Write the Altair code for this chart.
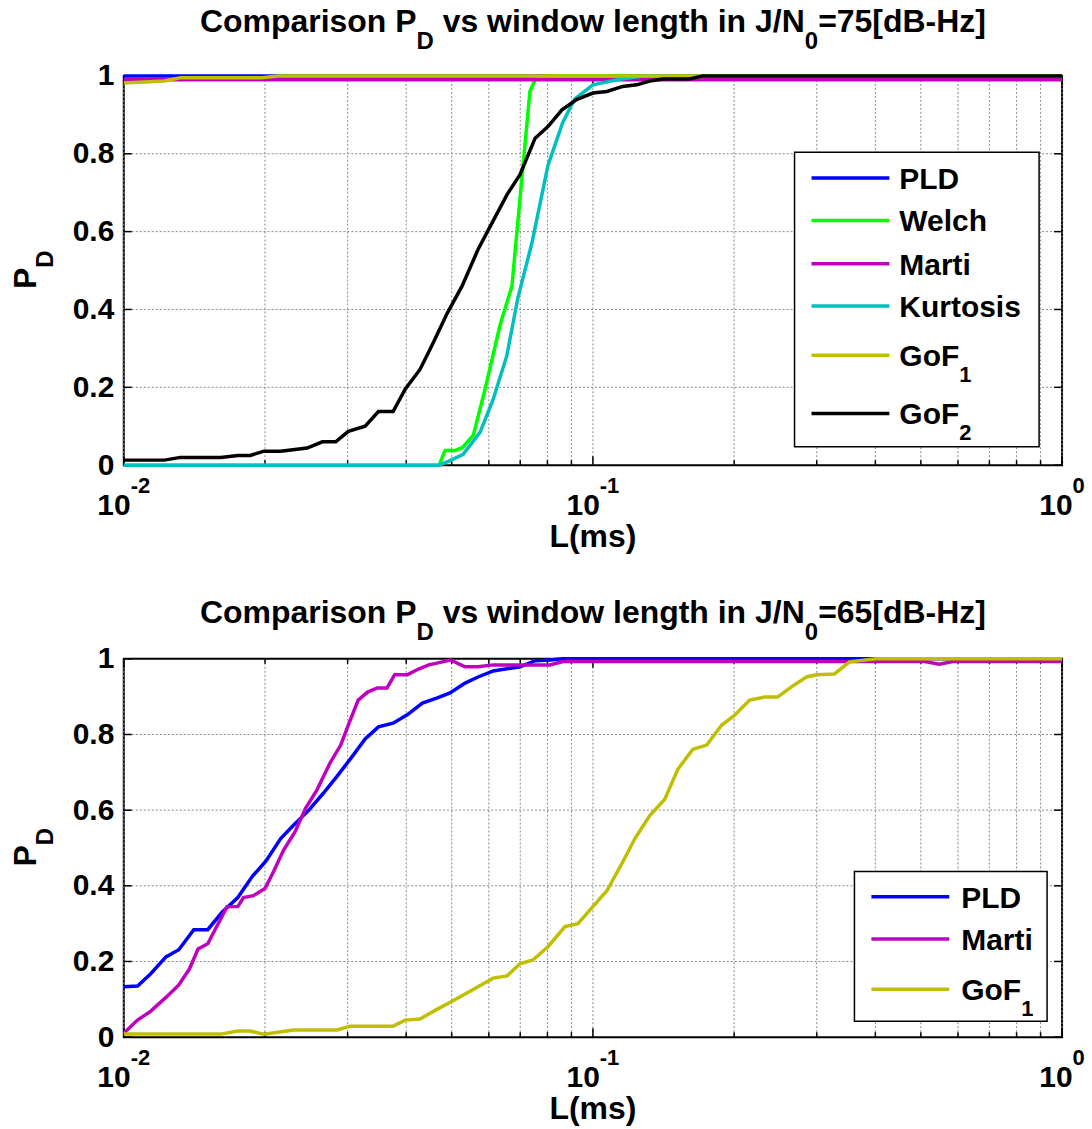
import altair as alt
import pandas as pd

FONT = "Liberation Sans, Arial, sans-serif"

# ---------------- J/N0 = 75 dB-Hz ----------------
pld75_L = [0.01, 1.0]
pld75_P = [1.0, 1.0]

welch75_L = [0.0100, 0.0470, 0.0484, 0.0509, 0.0527, 0.0556, 0.0589, 0.0634, 0.0672,
             0.0734, 0.0753, 0.0800, 1.0]
welch75_P = [0.0, 0.0, 0.038, 0.038, 0.045, 0.077, 0.195, 0.36, 0.46,
             0.96, 0.99, 1.0, 1.0]

marti75_L = [0.01, 1.0]
marti75_P = [0.99, 0.99]

kurt75_L = [0.0100, 0.0470, 0.0492, 0.0529, 0.0575, 0.0612, 0.0655, 0.0692, 0.0741,
            0.0802, 0.0862, 0.0914, 0.1000, 0.1126, 0.1278, 1.0]
kurt75_P = [0.0, 0.0, 0.01, 0.028, 0.085, 0.167, 0.28, 0.43, 0.57,
            0.77, 0.88, 0.94, 0.977, 0.99, 1.0, 1.0]

gof1_75_L = [0.0100, 0.0122, 0.0132, 0.0197, 0.0213, 1.0]
gof1_75_P = [0.982, 0.987, 0.995, 0.995, 1.0, 1.0]

gof2_75_L = [0.0100, 0.0122, 0.0132, 0.0161, 0.0175, 0.0186, 0.0199, 0.0216, 0.0246, 0.0265,
             0.0283, 0.0301, 0.0327, 0.0349, 0.0375, 0.0398, 0.0428, 0.0457, 0.0489, 0.0526,
             0.0569, 0.0610, 0.0656, 0.0699, 0.0753, 0.0802, 0.0859, 0.0925, 0.1000, 0.1071,
             0.1158, 0.1240, 0.1322, 0.1409, 0.1608, 0.1714, 1.0]
gof2_75_P = [0.013, 0.013, 0.02, 0.02, 0.025, 0.025, 0.036, 0.036, 0.044, 0.06,
             0.06, 0.087, 0.10, 0.138, 0.138, 0.195, 0.246, 0.315, 0.39, 0.46,
             0.554, 0.623, 0.695, 0.746, 0.84, 0.87, 0.913, 0.94, 0.956, 0.96,
             0.973, 0.977, 0.987, 0.992, 0.992, 1.0, 1.0]

# ---------------- J/N0 = 65 dB-Hz ----------------
pld65_L = [0.0100, 0.0107, 0.0114, 0.0123, 0.0131, 0.0141, 0.0151, 0.0162, 0.0175, 0.0188,
           0.0201, 0.0216, 0.0230, 0.0248, 0.0266, 0.0285, 0.0307, 0.0327, 0.0349, 0.0375,
           0.0402, 0.0433, 0.0466, 0.0496, 0.0534, 0.0569, 0.0613, 0.0699, 0.0753, 0.0810,
           0.0864, 1.0]
pld65_P = [0.133, 0.135, 0.167, 0.212, 0.231, 0.284, 0.284, 0.33, 0.369, 0.425,
           0.466, 0.525, 0.56, 0.60, 0.644, 0.69, 0.742, 0.788, 0.82, 0.83,
           0.852, 0.883, 0.897, 0.91, 0.936, 0.952, 0.968, 0.979, 0.995, 0.997,
           1.0, 1.0]

marti65_L = [0.0100, 0.0107, 0.0114, 0.0123, 0.0131, 0.0138, 0.0144, 0.0151, 0.0166, 0.0175,
             0.0180, 0.0189, 0.0200, 0.0209, 0.0219, 0.0232, 0.0244, 0.0258, 0.0275, 0.0290,
             0.0301, 0.0316, 0.0331, 0.0347, 0.0364, 0.0378, 0.0402, 0.0425, 0.0447, 0.0470,
             0.0497, 0.0534, 0.0569, 0.0613, 0.0699, 0.0810, 0.0864, 0.51, 0.547, 0.585,
             1.0]
marti65_P = [0.01, 0.045, 0.068, 0.105, 0.138, 0.18, 0.233, 0.247, 0.345, 0.345,
             0.369, 0.374, 0.393, 0.44, 0.494, 0.544, 0.605, 0.653, 0.724, 0.772,
             0.825, 0.891, 0.912, 0.923, 0.923, 0.958, 0.958, 0.973, 0.984, 0.99,
             0.997, 0.979, 0.979, 0.984, 0.984, 0.984, 0.993, 0.993, 0.986, 0.993,
             0.993]

gof1_65_L = [0.0100, 0.0161, 0.0175, 0.0186, 0.0199, 0.0230, 0.0285, 0.0304, 0.0375, 0.0398,
             0.0428, 0.0466, 0.0501, 0.0534, 0.0569, 0.0613, 0.0656, 0.0699, 0.0745, 0.0802,
             0.0872, 0.0929, 0.1000, 0.1071, 0.1153, 0.1229, 0.1322, 0.1423, 0.1517, 0.1633,
             0.1748, 0.1882, 0.2005, 0.2158, 0.2323, 0.2475, 0.2664, 0.2853, 0.2997, 0.3272,
             0.3523, 0.4021, 1.0]
gof1_65_P = [0.008, 0.008, 0.016, 0.016, 0.008, 0.019, 0.019, 0.029, 0.029, 0.045,
             0.048, 0.074, 0.095, 0.114, 0.133, 0.156, 0.162, 0.194, 0.204, 0.239,
             0.292, 0.30, 0.345, 0.387, 0.459, 0.525, 0.586, 0.629, 0.708, 0.761,
             0.772, 0.825, 0.851, 0.891, 0.899, 0.899, 0.928, 0.952, 0.958, 0.960,
             0.992, 1.0, 1.0]

# ---------------- axes ----------------
x_grid = [0.01, 0.02, 0.03, 0.04, 0.05, 0.06, 0.07, 0.08, 0.09,
          0.1, 0.2, 0.3, 0.4, 0.5, 0.6, 0.7, 0.8, 0.9, 1.0]
x_minor = [0.02, 0.03, 0.04, 0.05, 0.06, 0.07, 0.08, 0.09,
           0.2, 0.3, 0.4, 0.5, 0.6, 0.7, 0.8, 0.9]
x_major = [0.01, 0.1, 1.0]
x_base = "10"
x_exp = ["-2", "-1", "0"]
y_ticks = [0, 0.2, 0.4, 0.6, 0.8, 1.0]

C_PLD, C_WELCH, C_MARTI = "#0000ff", "#00ff00", "#bf00bf"
C_KURT, C_GOF1, C_GOF2 = "#00bfbf", "#bfbf00", "#000000"

PANEL_W = 940
H_TOP = 390
H_BOT = 379
LINE_W = 3.5

# Liberation Sans Bold advance widths (1/1000 em), used to lay out mixed-size text
ADV = {" ": 278, "C": 722, "o": 611, "m": 889, "p": 611, "a": 556, "r": 389, "i": 278,
       "s": 556, "n": 611, "P": 667, "D": 722, "v": 556, "w": 778, "d": 611, "l": 278,
       "e": 556, "g": 611, "t": 333, "h": 611, "J": 556, "/": 278, "N": 722, "0": 556,
       "=": 584, "7": 556, "5": 556, "6": 556, "[": 333, "B": 722, "-": 333, "H": 722,
       "z": 500, "]": 333, "1": 556, "2": 556, "G": 778, "F": 611}


def tw(s, size):
    return sum(ADV.get(c, 600) for c in s) * size / 1000.0


X_SCALE = alt.Scale(type="log", domain=[0.01, 1.0], nice=False)
Y_SCALE = alt.Scale(domain=[0, 1], nice=False, zero=False)
Y_AXIS = alt.Axis(values=y_ticks, format="~g", labelFont=FONT, labelFontSize=30,
                  labelFontWeight="bold", labelColor="black", ticks=False, domain=False,
                  grid=False, title=None, labelPadding=10, labelOverlap=False,
                  labelFlush=False)


def xenc():
    return alt.X("L:Q", scale=X_SCALE, axis=None)


def yenc():
    return alt.Y("P:Q", scale=Y_SCALE, axis=Y_AXIS)


def blank():
    return alt.Chart(alt.Data(values=[{}]))


def label(text, x, y, size, align="left", angle=None):
    kw = dict(text=text, font=FONT, fontWeight="bold", fontSize=size, align=align,
              baseline="alphabetic", color="black")
    if angle is not None:
        kw["angle"] = angle
    return blank().mark_text(**kw).encode(x=alt.value(x), y=alt.value(y))


def curve(L, P, color):
    df = pd.DataFrame({"L": L, "P": P})
    return alt.Chart(df).mark_line(color=color, strokeWidth=LINE_W).encode(x=xenc(), y=yenc())


def panel(curves, height, title_parts, title_base, box, rows, entries, xlabel_base,
          anchor_top, anchor_bottom):
    layers = []
    grid_style = dict(color="#8a8a8a", strokeWidth=1, strokeDash=[2, 2])
    layers.append(alt.Chart(pd.DataFrame({"L": x_grid})).mark_rule(**grid_style).encode(
        x=xenc(), y=alt.value(0), y2=alt.value(height)))
    layers.append(alt.Chart(pd.DataFrame({"P": y_ticks[1:-1]})).mark_rule(**grid_style).encode(
        y=yenc(), x=alt.value(0), x2=alt.value(PANEL_W)))

    # inward tick marks on all four sides
    tick_style = dict(color="black", strokeWidth=1.5)
    for vals, ln in ((x_minor, 5), (x_major, 9)):
        df = pd.DataFrame({"L": vals})
        layers.append(alt.Chart(df).mark_rule(**tick_style).encode(
            x=xenc(), y=alt.value(height), y2=alt.value(height - ln)))
        layers.append(alt.Chart(df).mark_rule(**tick_style).encode(
            x=xenc(), y=alt.value(0), y2=alt.value(ln)))
    ydf = pd.DataFrame({"P": y_ticks})
    layers.append(alt.Chart(ydf).mark_rule(**tick_style).encode(
        y=yenc(), x=alt.value(0), x2=alt.value(8)))
    layers.append(alt.Chart(ydf).mark_rule(**tick_style).encode(
        y=yenc(), x=alt.value(PANEL_W - 8), x2=alt.value(PANEL_W)))

    for L, P, c in curves:
        layers.append(curve(L, P, c))

    # legend
    bx0, bx1, by0, by1, lx0, lx1, tx = box
    layers.append(blank().mark_rect(fill="white", stroke="black", strokeWidth=1.5).encode(
        x=alt.value(bx0), x2=alt.value(bx1), y=alt.value(by0), y2=alt.value(by1)))
    for (name, sub, c), ry in zip(entries, rows):
        layers.append(blank().mark_rule(color=c, strokeWidth=LINE_W).encode(
            x=alt.value(lx0), x2=alt.value(lx1), y=alt.value(ry)))
        layers.append(label(name, tx, ry + 11, 30))
        if sub:
            layers.append(label(sub, tx + tw(name, 30), ry + 27, 22))

    # x tick labels: 10 with a raised exponent, centred on the decade
    for v, e in zip(x_major, x_exp):
        dx = (tw(x_base, 30) - tw(e, 22)) / 2.0
        df = pd.DataFrame({"L": [v]})
        layers.append(alt.Chart(df).mark_text(
            text=x_base, font=FONT, fontWeight="bold", fontSize=30, align="right",
            baseline="alphabetic", dx=dx, color="black").encode(x=xenc(), y=alt.value(height + 50)))
        layers.append(alt.Chart(df).mark_text(
            text=e, font=FONT, fontWeight="bold", fontSize=22, align="left",
            baseline="alphabetic", dx=dx, color="black").encode(x=xenc(), y=alt.value(height + 28)))

    # x label
    layers.append(label("L(ms)", PANEL_W / 2, xlabel_base, 32, align="center"))

    # y label P_D, rotated
    yc = height / 2 + 18.5
    layers.append(label("P", -88, yc, 32, angle=270))
    layers.append(label("D", -71, yc - tw("P", 32), 24, angle=270))

    # title with subscripts; leading blanks become an x advance (SVG drops them)
    total = sum(tw(t, s) for t, s, _ in title_parts)
    x = PANEL_W / 2 - total / 2
    for t, s, dy in title_parts:
        body = t.lstrip(" ")
        lead = tw(t[:len(t) - len(body)], s)
        layers.append(label(body, x + lead, title_base + dy, s))
        x += tw(t, s)

    # invisible frame fixing the extent of this panel
    layers.append(blank().mark_rect(opacity=0).encode(
        x=alt.value(-123), x2=alt.value(969), y=alt.value(anchor_top), y2=alt.value(anchor_bottom)))

    return alt.layer(*layers).properties(width=PANEL_W, height=height)


def title_parts(level):
    return [("Comparison P", 32, 0), ("D", 24, 17), (" vs window length in J/N", 32, 0),
            ("0", 24, 17), ("=" + level + "[dB-Hz]", 32, 0)]


top = panel(
    curves=[(pld75_L, pld75_P, C_PLD), (welch75_L, welch75_P, C_WELCH),
            (marti75_L, marti75_P, C_MARTI), (kurt75_L, kurt75_P, C_KURT),
            (gof1_75_L, gof1_75_P, C_GOF1), (gof2_75_L, gof2_75_P, C_GOF2)],
    height=H_TOP,
    title_parts=title_parts("75"),
    title_base=-43.5,
    box=(672, 917, 76.5, 371.5, 689, 767, 777),
    rows=[102.2, 144.8, 188.2, 230.5, 279.8, 338.2],
    entries=[("PLD", "", C_PLD), ("Welch", "", C_WELCH), ("Marti", "", C_MARTI),
             ("Kurtosis", "", C_KURT), ("GoF", "1", C_GOF1), ("GoF", "2", C_GOF2)],
    xlabel_base=H_TOP + 82,
    anchor_top=-73.5,
    anchor_bottom=486.5,
)

bottom = panel(
    curves=[(pld65_L, pld65_P, C_PLD), (marti65_L, marti65_P, C_MARTI),
            (gof1_65_L, gof1_65_P, C_GOF1)],
    height=H_BOT,
    title_parts=title_parts("65"),
    title_base=-36,
    box=(732, 925, 213, 363, 749, 827, 839),
    rows=[238.3, 280.7, 331.0],
    entries=[("PLD", "", C_PLD), ("Marti", "", C_MARTI), ("GoF", "1", C_GOF1)],
    xlabel_base=H_BOT + 82,
    anchor_top=-95,
    anchor_bottom=474,
)

chart = alt.vconcat(top, bottom, spacing=0).properties(
    padding=0, background="white"
).configure_view(stroke="black", strokeWidth=2)

chart.save("out.html", embed_options={"renderer": "svg", "actions": False})
